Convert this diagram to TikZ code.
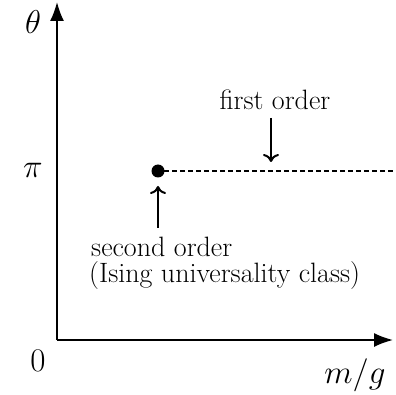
\RequirePackage{fix-cm}
\documentclass[tikz,border=0pt]{standalone}
\usetikzlibrary{arrows.meta}
\begin{document}
\begin{tikzpicture}[x=1pt,y=-1pt,
  axis/.style={line width=1.8pt,-{Latex[length=19pt,width=14pt]}},
  pointer/.style={line width=2pt,-{To[length=8pt,width=16pt]}},
  lbl/.style={inner sep=0pt,font=\fontsize{28}{32}\selectfont},
  mlbl/.style={inner sep=0pt,font=\fontsize{33}{38}\selectfont}]
\useasboundingbox (0,0) rectangle (396,395);
\coordinate (O) at (57,340);
\coordinate (ytop) at (57,2);
\coordinate (xend) at (393,340);
\draw[axis] (O) -- (ytop);
\draw[axis] (O) -- (xend);
\node[mlbl] (theta) at (33,22) {$\theta$};
\node[mlbl] (pi) at (33,170) {$\pi$};
\node[mlbl] (zero) at (38,361) {$0$};
\node[mlbl] (mg) at (355,375) {$m/g$};
\fill (158,171) circle (6.5pt);
\coordinate (dot) at (158,171);
\coordinate (dend) at (396,171);
\draw[line width=1.2pt,dash pattern=on 4.5pt off 3.5pt] (164,171) -- (dend);
\node[lbl] (first) at (275,100) {first order};
\coordinate (fa) at (271,118);
\coordinate (fb) at (271,162);
\draw[pointer] (fa) -- (fb);
\coordinate (sa) at (158,228);
\coordinate (sb) at (158,186);
\draw[pointer] (sa) -- (sb);
\node[lbl,anchor=west] (second) at (91,247) {second order};
\node[lbl,anchor=west] (ising) at (89,276) {(Ising universality class)};
\end{tikzpicture}
\end{document}
